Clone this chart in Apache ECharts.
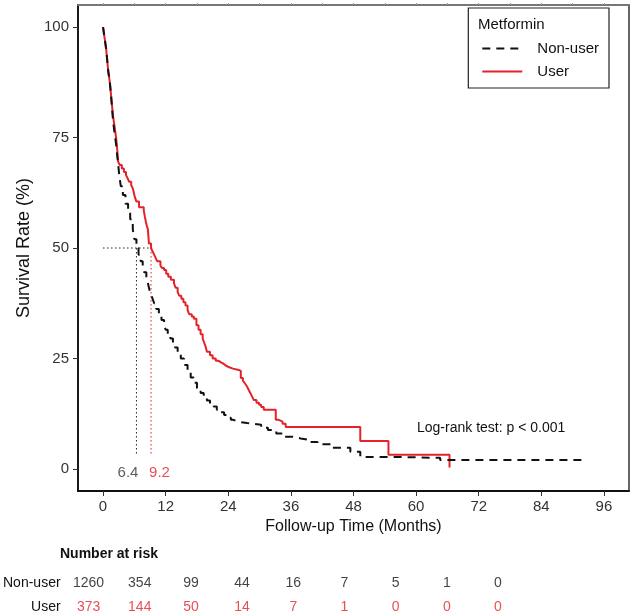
<!DOCTYPE html>
<html><head><meta charset="utf-8">
<script src="https://cdn.jsdelivr.net/npm/echarts@6/dist/echarts.min.js"></script>
<style>html,body{margin:0;padding:0;background:#fff}#c{width:634px;height:616px}</style>
</head><body><div id="c"></div><script>
const xTicks=[0,12,24,36,48,60,72,84,96];
const topTicks=[0,6,12,18,24,30,36,42,48,54,60,66,72,78,84,90,96];
const yTicks=[0,25,50,75,100];
const nonUserTime=[0,0.3,0.6,0.8,1.0,1.3,1.5,1.7,1.9,2.2,2.5,2.7,2.9,3.1,3.4,3.8,4.3,4.8,5.2,5.7,6.0,6.4,6.8,7.2,7.6,7.9,8.3,8.6,8.9,9.2,9.5,9.8,10.2,10.7,11.2,11.7,12.0,12.4,12.9,13.4,13.8,14.3,14.9,15.5,16.2,16.8,17.4,18.0,18.7,19.3,19.9,20.5,21.2,21.8,22.5,23.2,23.9,24.5,25.0,25.7,26.4,27.6,28.9,30.3,31.6,33.2,34.7,36.3,37.9,39.5,41.1,44.0,47.4,49.3,57.0,64.6,91.8];
const nonUserSurv=[100,97.5,95,92.5,90,87.5,85,82,79,76,73.5,71,69,66.5,64,62,60,58.3,56.5,54.2,52,50,48.5,47,45.5,44.5,43,42,40.5,39.5,38.5,37.5,36.2,35,33.7,32.5,31.5,30.5,29.5,28.5,27.5,26.5,25,23.5,22,20.7,19.5,18.3,17.2,16.3,15.5,14.8,14.1,13.4,12.8,12.2,11.6,11.1,10.8,10.6,10.4,10.2,10,9.3,8.8,8.0,7.3,6.9,6.6,6.1,5.6,4.8,3.9,2.7,2.5,2.0,2.0];
const userTime=[0,0.3,0.6,0.8,1.0,1.3,1.5,1.7,1.9,2.2,2.5,2.7,2.9,3.2,3.6,4.0,4.4,4.7,5.0,5.4,5.7,5.9,6.1,6.4,6.9,7.8,8.0,8.2,8.4,8.6,8.7,8.8,9.2,9.5,9.8,10.1,10.4,11.0,11.3,11.7,12.1,12.5,13.0,13.6,13.9,14.3,14.6,15.0,15.4,15.8,16.2,16.5,17.0,17.4,17.9,18.3,18.7,19.1,19.4,19.7,19.9,20.5,21.0,21.6,22.1,22.6,23.1,23.5,24.2,24.9,26.0,26.4,26.8,27.1,27.4,27.7,28.0,28.3,28.6,28.9,29.4,29.9,30.3,30.8,33.1,33.7,34.4,35.0,49.3,54.7,66.4];
const userSurv=[100,97.5,95,92.5,90,87.5,85,82.5,80,77.5,75,72.5,69.5,68.8,68,67.2,66.5,65.8,65,64.2,63.5,62.5,61.5,60.5,59.2,58.5,57.2,56,55,54.2,52.5,51,50,49.2,48.5,47.7,47,46,45.5,45,44.2,43.5,42.8,42,41,40,39.2,38.5,37.7,37,36,35,34.5,34,32.5,31.5,30.5,29.5,28.5,27.5,26.5,25.7,25,24.5,24.1,23.8,23.4,23,22.7,22.4,22.2,20.6,20,19.5,19,18.4,17.7,17,16.3,15.6,15,14.5,14,13.4,11.1,10.7,10.2,9.5,6.3,3.2,0.3];
const medianNonUser=6.4, medianUser=9.2, medianLevel=50, medianLineBottom=3;
const riskTimes=[0,12,24,36,48,60,72,84,96];
const riskNonUser=[1260,354,99,44,16,7,5,1,0];
const riskUser=[373,144,50,14,7,1,0,0,0];
const groups=['Non-user','User'];

const FONT='"Liberation Sans", Arial, sans-serif';
const RED='#e3222a';
const zip=(a,b)=>a.map((v,i)=>[v,b[i]]);

const chart=echarts.init(document.getElementById('c'),null,{renderer:'canvas'});
const option={
  animation:false,
  backgroundColor:'#fff',
  textStyle:{fontFamily:FONT},
  grid:[
    {left:78,right:5,top:5,bottom:125,show:true,borderColor:'#333',borderWidth:1.5,backgroundColor:'transparent'},
    {left:81,right:136,top:583,height:24}
  ],
  legend:{
    data:groups,
    orient:'vertical',right:25,top:8,
    padding:[33,10,9,13],
    itemWidth:40,itemHeight:14,itemGap:8,
    itemStyle:{opacity:0},
    borderColor:'#222',borderWidth:1.2,backgroundColor:'#fff',
    textStyle:{fontFamily:FONT,fontSize:15,color:'#111',padding:[0,0,0,10]}
  },
  xAxis:[
    {gridIndex:0,type:'value',min:-4.8,max:100.8,
     name:'Follow-up Time (Months)',nameLocation:'middle',nameGap:19,
     nameTextStyle:{fontFamily:FONT,fontSize:16,color:'#111'},
     axisLine:{show:true,onZero:false,lineStyle:{color:'#111',width:1.8}},
     axisTick:{show:true,length:5,customValues:xTicks,lineStyle:{color:'#333'}},
     axisLabel:{customValues:xTicks,margin:8,fontSize:15,color:'#333',fontFamily:FONT},
     splitLine:{show:false}},
    {gridIndex:1,type:'value',min:0,max:96,show:false},
    {gridIndex:0,type:'value',position:'top',min:-4.8,max:100.8,
     axisLine:{show:true,onZero:false,lineStyle:{color:'#777',width:2}},
     axisTick:{show:true,length:2,customValues:topTicks,lineStyle:{color:'#999',width:1}},
     axisLabel:{show:false},splitLine:{show:false}}
  ],
  yAxis:[
    {gridIndex:0,type:'value',min:-5,max:105,
     name:'Survival Rate (%)',nameLocation:'middle',nameGap:36,
     nameTextStyle:{fontFamily:FONT,fontSize:18,color:'#111'},
     axisLine:{show:true,onZero:false,lineStyle:{color:'#111',width:1.8}},
     axisTick:{show:true,length:5,customValues:yTicks,lineStyle:{color:'#333'}},
     axisLabel:{customValues:yTicks,margin:9,fontSize:15,color:'#333',fontFamily:FONT},
     splitLine:{show:false}},
    {gridIndex:1,type:'category',data:['User','Non-user'],boundaryGap:false,
     axisLine:{show:false},axisTick:{show:false},splitLine:{show:false},
     axisLabel:{margin:28,fontSize:14,color:'#111',fontFamily:FONT}}
  ],
  graphic:[
    {type:'text',left:478,top:17,style:{text:'Metformin',font:'15px '+FONT,fill:'#111'},z:100},
    {type:'text',left:417,top:421,style:{text:'Log-rank test: p < 0.001',font:'14px '+FONT,fill:'#111'}},
    {type:'text',left:60,top:547,style:{text:'Number at risk',font:'bold 14px '+FONT,fill:'#111'}}
  ],
  series:[
    {name:'Non-user',type:'line',step:'end',symbol:'none',data:zip(nonUserTime,nonUserSurv),
     lineStyle:{color:'#111',width:2,type:[8,6]},itemStyle:{color:'#111'},z:3},
    {name:'User',type:'line',step:'end',symbol:'none',data:zip(userTime,userSurv),
     lineStyle:{color:RED,width:2},itemStyle:{color:RED},z:2},
    {type:'line',symbol:'none',silent:true,data:[[0,medianLevel],[medianUser,medianLevel]],
     lineStyle:{color:'#222',width:1,type:[1.5,2.5]},z:1},
    {type:'line',symbol:'none',silent:true,data:[[medianNonUser,medianLevel],[medianNonUser,medianLineBottom]],
     lineStyle:{color:'#222',width:1,type:[1.5,2.5]},z:1},
    {type:'line',symbol:'none',silent:true,data:[[medianUser,medianLevel],[medianUser,medianLineBottom]],
     lineStyle:{color:RED,width:1,type:[1.5,2.5]},z:1},
    {type:'scatter',symbolSize:0,silent:true,data:[[medianNonUser,0]],
     label:{show:true,position:'inside',formatter:()=>String(medianNonUser),align:'right',offset:[2,4],fontSize:15,color:'#333',fontFamily:FONT}},
    {type:'scatter',symbolSize:0,silent:true,data:[[medianUser,0]],
     label:{show:true,position:'inside',formatter:()=>String(medianUser),align:'left',offset:[-2,4],fontSize:15,color:RED,fontFamily:FONT}},
    {type:'scatter',xAxisIndex:1,yAxisIndex:1,symbolSize:0,silent:true,
     data:riskTimes.map((t,i)=>[t,'Non-user',riskNonUser[i]]),
     label:{show:true,position:'inside',formatter:p=>String(p.value[2]),fontSize:14,color:'#111',fontFamily:FONT}},
    {type:'scatter',xAxisIndex:1,yAxisIndex:1,symbolSize:0,silent:true,
     data:riskTimes.map((t,i)=>[t,'User',riskUser[i]]),
     label:{show:true,position:'inside',formatter:p=>String(p.value[2]),fontSize:14,color:RED,fontFamily:FONT}}
  ]
};
chart.setOption(option);
</script></body></html>
